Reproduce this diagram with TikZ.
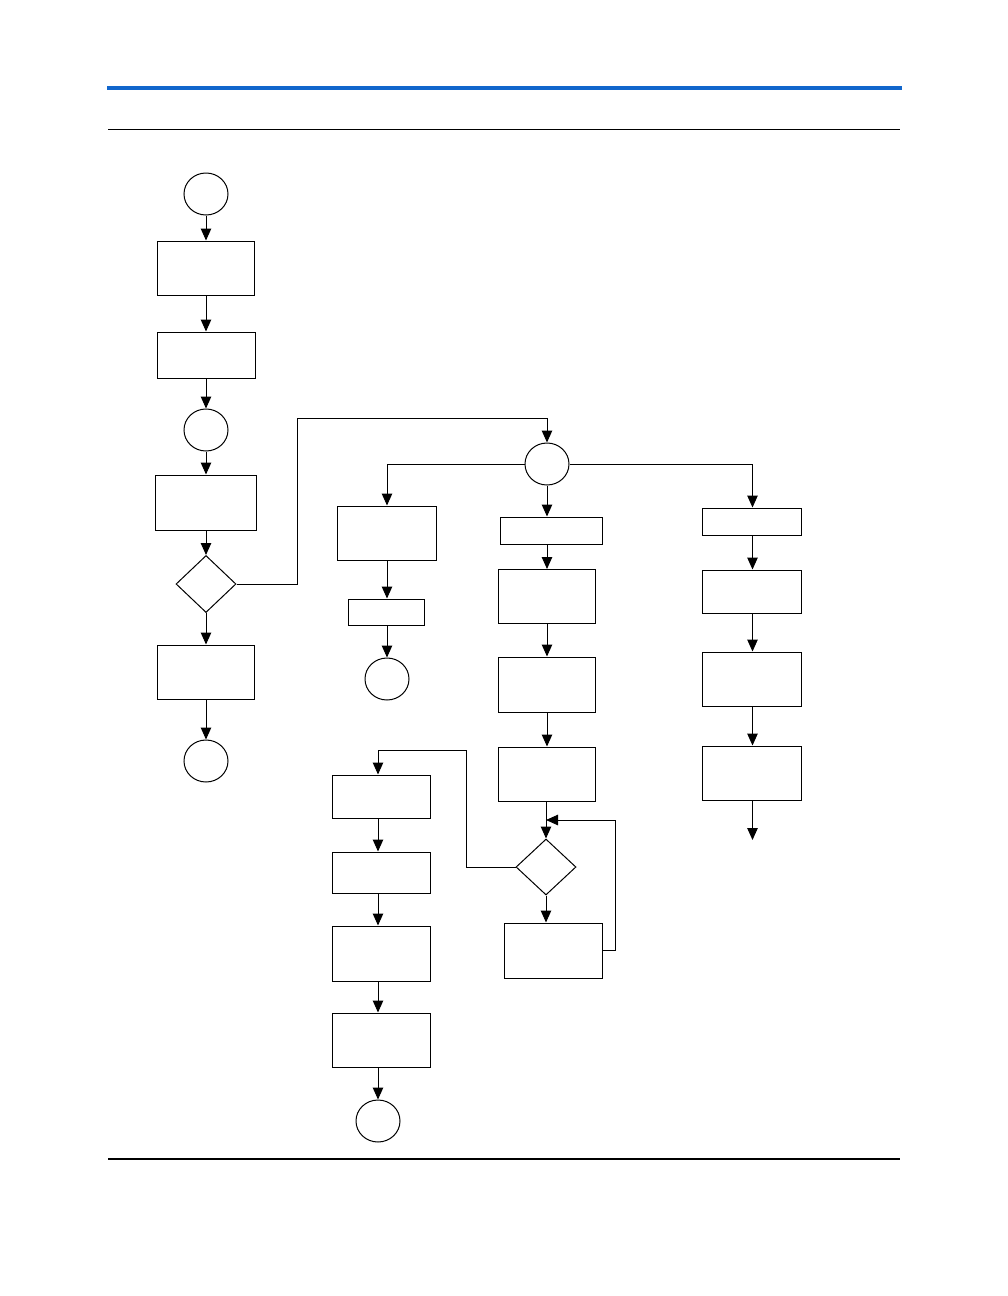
\documentclass[tikz,border=0pt]{standalone}
\usetikzlibrary{arrows.meta,shapes.geometric}
\definecolor{hdrblue}{RGB}{17,102,204}
\begin{document}
\begin{tikzpicture}[x=1pt,y=-1pt,
  line width=1pt,
  arr/.style={-{Triangle[length=12pt,width=10.5pt]}},
  box/.style={draw, rectangle, inner sep=0pt},
  term/.style={draw, ellipse, inner sep=0pt, minimum width=44pt, minimum height=42pt},
  dec/.style={draw, diamond, inner sep=0pt, minimum width=60pt, minimum height=57pt}]
\useasboundingbox (0,0) rectangle (1008,1296);
% header / footer rules
\draw[hdrblue, line width=4.5pt] (107,88) -- (902,88);
\draw[line width=1.2pt] (108,129.5) -- (900,129.5);
\draw[line width=1.2pt] (108,1159) -- (900,1159);
% left column
\node[term] (c1) at (206,194) {};
\node[box, minimum width=97pt, minimum height=54pt] (b1) at (205.5,268) {};
\node[box, minimum width=98pt, minimum height=46pt] (b2) at (206,355) {};
\node[term] (c2) at (206,430) {};
\node[box, minimum width=101pt, minimum height=55pt] (b3) at (205.5,502.5) {};
\node[dec] (d1) at (206,584) {};
\node[box, minimum width=97pt, minimum height=54pt] (b4) at (205.5,672) {};
\node[term] (c3) at (206,761) {};
% hub
\node[term] (c4) at (547,464) {};
\coordinate (j1) at (297,418);
% left branch
\node[box, minimum width=99pt, minimum height=54pt] (L1) at (386.5,533) {};
\node[box, minimum width=76pt, minimum height=26pt] (L2) at (386,612) {};
\node[term] (c5) at (387,679) {};
% middle branch
\node[box, minimum width=102pt, minimum height=27pt] (M1) at (551,530.5) {};
\node[box, minimum width=97pt, minimum height=54pt] (M2) at (547,596.5) {};
\node[box, minimum width=97pt, minimum height=55pt] (M3) at (546.5,684.5) {};
\node[box, minimum width=97pt, minimum height=54pt] (M4) at (546.5,774) {};
\node[dec, minimum height=56pt] (d2) at (546,867) {};
\node[box, minimum width=98pt, minimum height=55pt] (M5) at (553,950.5) {};
\coordinate (loopc) at (615,820);
\coordinate (j2) at (466,750);
% lower-left column
\node[box, minimum width=98pt, minimum height=43pt] (K1) at (381,796.5) {};
\node[box, minimum width=98pt, minimum height=41pt] (K2) at (381,872.5) {};
\node[box, minimum width=98pt, minimum height=55pt] (K3) at (381,953.5) {};
\node[box, minimum width=98pt, minimum height=54pt] (K4) at (381,1040) {};
\node[term] (c6) at (378,1121) {};
% right branch
\node[box, minimum width=99pt, minimum height=27pt] (R1) at (751.5,521.5) {};
\node[box, minimum width=99pt, minimum height=43pt] (R2) at (751.5,591.5) {};
\node[box, minimum width=99pt, minimum height=54pt] (R3) at (751.5,679) {};
\node[box, minimum width=99pt, minimum height=54pt] (R4) at (751.5,773) {};
\coordinate (Rend) at (752.5,840);
% connectors: left column
\draw[arr] (c1) -- (b1.north -| c1);
\draw[arr] (b1.south -| c1) -- (b2.north -| c1);
\draw[arr] (b2.south -| c1) -- (c2);
\draw[arr] (c2) -- (b3.north -| c2);
\draw[arr] (b3.south -| c2) -- (d1);
\draw[arr] (d1) -- (b4.north -| d1);
\draw[arr] (b4.south -| c3) -- (c3);
\draw[arr] (d1.east) -| (j1) -| (c4.north);
% hub branches
\draw[arr] (c4.west) -| (L1.north -| c5);
\draw[arr] (c4.east) -| (R1.north -| Rend);
\draw[arr] (c4.south) -- (M1.north -| c4);
% left branch chain
\draw[arr] (L1.south -| c5) -- (L2.north -| c5);
\draw[arr] (L2.south -| c5) -- (c5);
% middle chain
\draw[arr] (M1.south -| c4) -- (M2.north -| c4);
\draw[arr] (M2.south -| c4) -- (M3.north -| c4);
\draw[arr] (M3.south -| c4) -- (M4.north -| c4);
\draw[arr] (M4.south -| d2) -- (d2.north);
\draw[arr] (d2.south) -- (M5.north -| d2);
\draw[arr] (M5.east) -| (loopc) -- (d2.north |- loopc);
\draw[arr] (d2.west) -| (j2) -| (K1.north -| c6);
% lower-left chain
\draw[arr] (K1.south -| c6) -- (K2.north -| c6);
\draw[arr] (K2.south -| c6) -- (K3.north -| c6);
\draw[arr] (K3.south -| c6) -- (K4.north -| c6);
\draw[arr] (K4.south -| c6) -- (c6);
% right chain
\draw[arr] (R1.south -| Rend) -- (R2.north -| Rend);
\draw[arr] (R2.south -| Rend) -- (R3.north -| Rend);
\draw[arr] (R3.south -| Rend) -- (R4.north -| Rend);
\draw[arr] (R4.south -| Rend) -- (Rend);
\end{tikzpicture}
\end{document}
